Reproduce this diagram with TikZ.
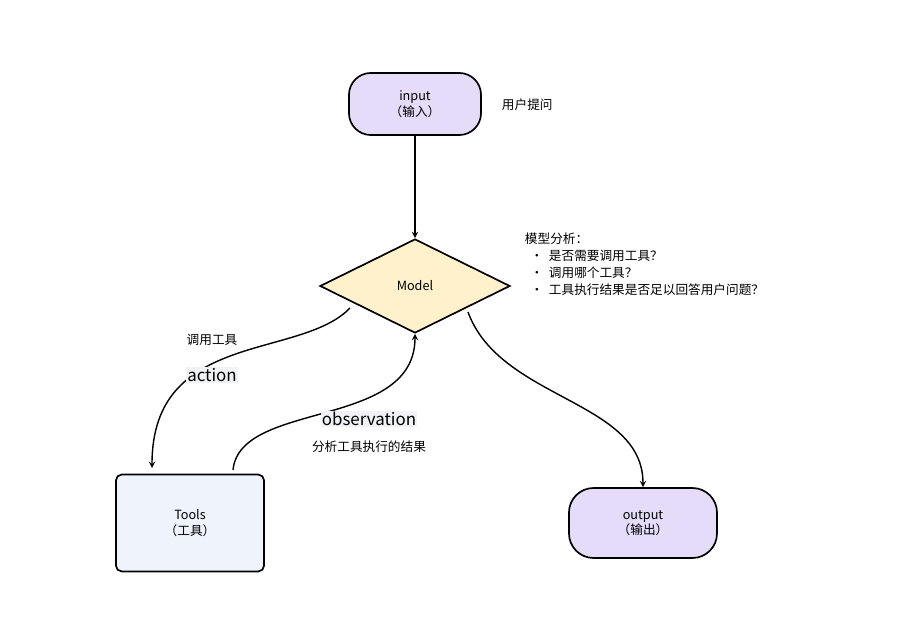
\documentclass[tikz,border=0pt]{standalone}
\usepackage{fontspec}
\setmainfont{Noto Sans CJK SC}
\usetikzlibrary{shapes.geometric,positioning}
\definecolor{lav}{HTML}{E5DCFA}
\definecolor{modelfill}{HTML}{FFF1CC}
\definecolor{toolfill}{HTML}{EEF3FC}
\definecolor{lblbg}{HTML}{F1F2F4}
\tikzset{
  term/.style={draw, line width=1.2pt, fill=lav, rounded corners=15.5pt, minimum width=3.3cm, minimum height=1.55cm, align=center, font=\small},
  flow/.style={->, line width=1pt, >=stealth},
  edgelbl/.style={fill=lblbg, inner sep=1pt, font=\large},
  note/.style={font=\small, align=left}
}
\begin{document}
\begin{tikzpicture}[x=0.025cm, y=-0.025cm]
  \useasboundingbox (0,0) rectangle (897,630);
  % nodes
  \node[term] (input) at (415,104) {input\\（输入）};
  \node[note, anchor=west] (ask) at (497,105) {用户提问};
  \node[draw, diamond, line width=1.2pt, fill=modelfill, minimum width=4.75cm, minimum height=2.35cm, font=\small] (model) at (415,286) {Model};
  \node[note, anchor=north west] (analysis) at (520,228) {模型分析：\\[1pt]
    \ \ \textbullet\ \ 是否需要调用工具？\\[1pt]
    \ \ \textbullet\ \ 调用哪个工具？\\[1pt]
    \ \ \textbullet\ \ 工具执行结果是否足以回答用户问题？};
  \node[draw, line width=1.2pt, fill=toolfill, rounded corners=4pt, minimum width=3.7cm, minimum height=2.42cm, align=center, font=\small] (tools) at (190,523) {Tools\\（工具）};
  \node[term, minimum width=3.7cm, minimum height=1.75cm, rounded corners=17.5pt] (output) at (643,523) {output\\（输出）};
  % connectors
  \coordinate (mleft) at (350,308);
  \coordinate (mright) at (468,312);
  \coordinate (ttop) at (233,470);
  \draw[flow] (input) -- (model);
  \draw[flow] (mleft) .. controls (300,360) and (152,330) .. (152,468);
  \draw[flow] (ttop) .. controls (240,400) and (415,430) .. (model.south);
  \draw[flow] (mright) .. controls (500,400) and (643,400) .. (output);
  % labels
  \node[font=\small] (callt) at (212,340) {调用工具};
  \node[edgelbl] (action) at (212,375) {action};
  \node[edgelbl] (obs) at (369,419) {observation};
  \node[font=\small] (obsres) at (369,447) {分析工具执行的结果};
\end{tikzpicture}
\end{document}
